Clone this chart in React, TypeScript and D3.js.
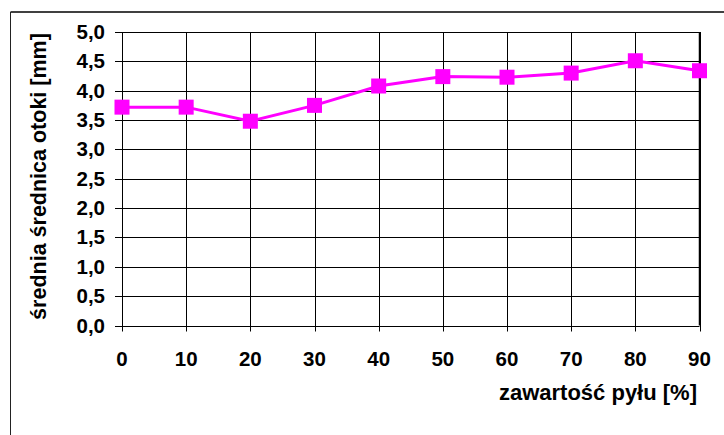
import React from "react";
import * as d3 from "d3";

const xValues = [0, 10, 20, 30, 40, 50, 60, 70, 80, 90];
const yValues = [3.72, 3.72, 3.48, 3.75, 4.08, 4.24, 4.23, 4.30, 4.51, 4.34];
const yTicks = [0, 0.5, 1, 1.5, 2, 2.5, 3, 3.5, 4, 4.5, 5];
const xTitle = "zawartość pyłu [%]";
const yTitle = "średnia średnica otoki [mm]";

export default function App() {
  const W = 724, H = 435;
  const left = 122, right = 699.5, top = 32, bottom = 325.5;
  const x = d3.scaleLinear().domain([0, 90]).range([left, right]);
  const y = d3.scaleLinear().domain([0, 5]).range([bottom, top]);
  const line = d3.line<number>().x((_, i) => x(xValues[i])).y((d) => y(d));
  const fmt = (v: number) => v.toFixed(1).replace(".", ",");
  const font = "'Liberation Sans', Arial, sans-serif";
  const ms = 15;
  return (
    <svg width={W} height={H} style={{ position: "absolute", left: 0, top: 0, background: "#fff" }}>
      <rect x={0} y={0} width={W} height={H} fill="#fff" />
      {/* outer frame */}
      <line x1={10.5} y1={12} x2={W} y2={12} stroke="#404040" strokeWidth={2} />
      <line x1={10.5} y1={12} x2={10.5} y2={H} stroke="#222" strokeWidth={1} />
      {/* horizontal grid */}
      {yTicks.map((t) => (
        <line key={"h" + t} x1={left - 7} x2={right} y1={Math.round(y(t)) + 0.5} y2={Math.round(y(t)) + 0.5} stroke="#000" strokeWidth={1} />
      ))}
      {/* vertical grid */}
      {xValues.map((v) => (
        <line key={"v" + v} x1={Math.round(x(v)) + 0.5} x2={Math.round(x(v)) + 0.5} y1={top} y2={bottom + 6} stroke="#000" strokeWidth={1} />
      ))}
      <line x1={right} x2={right} y1={top} y2={bottom} stroke="#000" strokeWidth={1.5} />
      {/* y tick labels */}
      {yTicks.map((t) => (
        <text key={"yl" + t} x={105} y={y(t) + 7} textAnchor="end" fontFamily={font} fontWeight="bold" fontSize={20.5} fill="#000">
          {fmt(t)}
        </text>
      ))}
      {/* x tick labels */}
      {xValues.map((v) => (
        <text key={"xl" + v} x={x(v)} y={366} textAnchor="middle" fontFamily={font} fontWeight="bold" fontSize={20.5} fill="#000">
          {v}
        </text>
      ))}
      {/* series */}
      <path d={line(yValues) || ""} fill="none" stroke="#FF00FF" strokeWidth={3} />
      {yValues.map((v, i) => (
        <rect key={"m" + i} x={x(xValues[i]) - ms / 2} y={y(v) - ms / 2} width={ms} height={ms} fill="#FF00FF" />
      ))}
      {/* titles */}
      <text x={697} y={400} textAnchor="end" fontFamily={font} fontWeight="bold" fontSize={22} fill="#000">
        {xTitle}
      </text>
      <text transform={`translate(46,176.5) rotate(-90)`} textAnchor="middle" fontFamily={font} fontWeight="bold" fontSize={21.5} fill="#000">
        {yTitle}
      </text>
    </svg>
  );
}
